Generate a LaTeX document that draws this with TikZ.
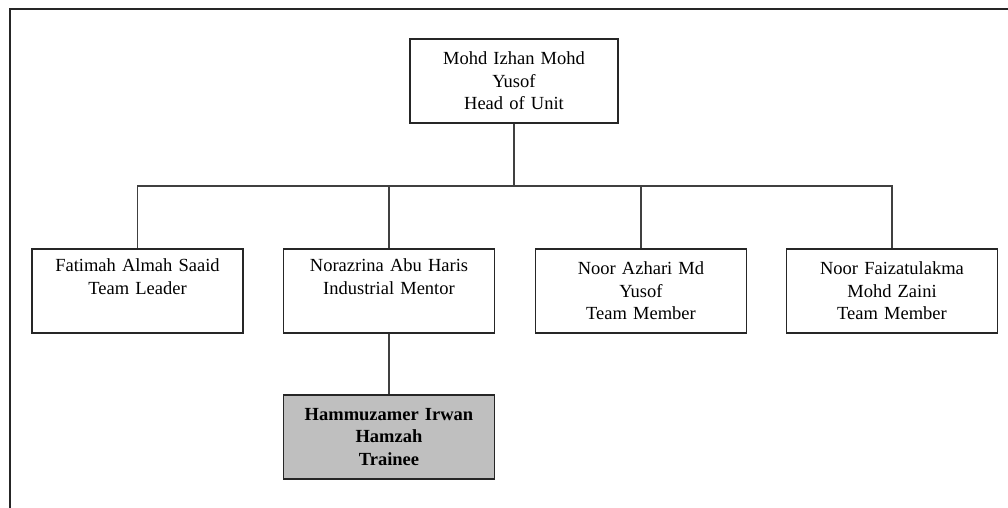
\documentclass[tikz,border=0pt]{standalone}
\usepackage{fontspec}
\setmainfont{Liberation Serif}
\usepackage{xcolor}
\usepackage{tikz}
\usetikzlibrary{positioning}

\begin{document}
\begin{tikzpicture}[x=1pt, y=-1pt,
    staff/.style={draw=black!85, line width=1.3pt, fill=white, minimum width=211pt,
      minimum height=84pt, inner sep=0pt, align=center, text width=205pt,
      font=\fontsize{18.5}{22.5}\selectfont},
    trainee/.style={staff, fill=black!25, font=\fontsize{18.5}{22.5}\selectfont\bfseries},
    link/.style={draw=black!75, line width=1.4pt}]
    \useasboundingbox (0,0) rectangle (1008,508);
    \draw[black!85, line width=2pt] (9.5,508) -- (9.5,9.5) -- (1008,9.5);

    \node[staff, minimum width=208pt] (head) at (514,81)
      {Mohd Izhan Mohd\\Yusof\\Head of Unit};

    \node[staff] (fatimah) at (137.5,291) {Fatimah Almah Saaid\\Team Leader\\\strut};
    \node[staff] (norazrina) at (389,291) {Norazrina Abu Haris\\Industrial Mentor\\\strut};
    \node[staff] (azhari) at (641,291) {Noor Azhari Md\\Yusof\\Team Member};
    \node[staff] (faizatul) at (892,291) {Noor Faizatulakma\\Mohd Zaini\\Team Member};

    \node[trainee] (hammuzamer) at (389,437) {Hammuzamer Irwan\\Hamzah\\Trainee};

    \coordinate (bus) at (514,186);
    \draw[link] (head.south) -- (bus);
    \draw[link] (fatimah.north) |- (faizatul.north |- bus) -- (faizatul.north);
    \draw[link] (norazrina.north) -- (norazrina.north |- bus);
    \draw[link] (azhari.north) -- (azhari.north |- bus);
    \draw[link] (norazrina.south) -- (hammuzamer.north);
\end{tikzpicture}
\end{document}
